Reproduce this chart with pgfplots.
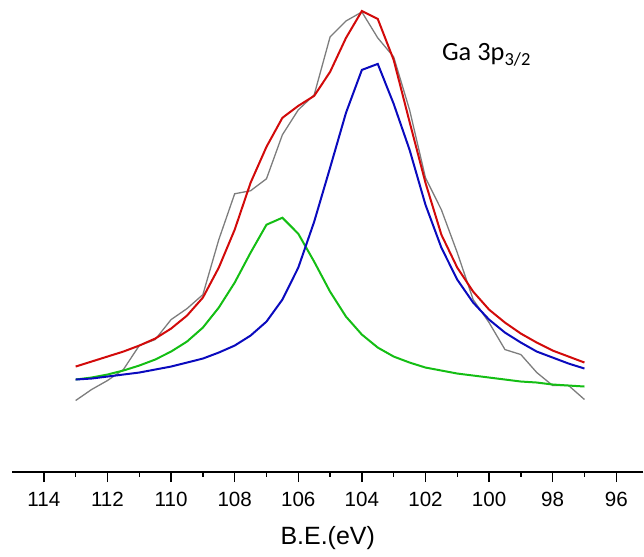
\documentclass[border=0pt]{standalone}
\usepackage{pgfplots}
\pgfplotsset{compat=1.18}
\usepackage{fontspec}
\setmainfont{Liberation Sans}
\newfontfamily\calibri{Carlito}
\definecolor{cred}{RGB}{210,10,10}
\definecolor{cblue}{RGB}{10,10,190}
\definecolor{cgreen}{RGB}{20,190,20}
\definecolor{cgray}{RGB}{125,125,125}
\begin{document}
\begin{tikzpicture}
\begin{axis}[
  scale only axis,
  width=316pt, height=236.35pt,
  x dir=reverse,
  xmin=95.15, xmax=115,
  ymin=0, ymax=472.7,
  axis x line=bottom,
  axis y line=none,
  axis line style={-, line width=0.7pt, black},
  xtick={96,98,...,114},
  minor x tick num=1,
  tick align=outside,
  major tick length=5pt,
  minor tick length=2.2pt,
  tick style={line width=0.7pt, black},
  /pgf/number format/assume math mode=true,
  xticklabel style={font=\fontsize{10.3}{12}\selectfont, anchor=base, yshift=-12pt},
  xlabel={B.E.(eV)},
  xlabel style={font=\fontsize{12.5}{14}\selectfont, at={(axis description cs:0.5,0)}, anchor=base, yshift=-36.15pt},
  clip=false,
]
\path (axis cs:115.38,-81.3) rectangle (axis cs:95.15,472.7);
\addplot[cgray, line width=0.65pt] coordinates {
(113,71.7)(112.5,82.7)(112,91.7)(111.5,102.7)(111,126.7)(110.5,132.7)(110,152.7)(109.5,163.7)(109,177.7)(108.5,232.7)(108,278.7)(107.5,281.7)(107,293.7)(106.5,337.7)(106,362.7)(105.5,377.7)(105,435.7)(104.5,451.7)(104,460.7)(103.5,434.7)(103,415.7)(102.5,362.7)(102,294.7)(101.5,262.7)(101,219.7)(100.5,172.7)(100,149.7)(99.5,122.7)(99,117.7)(98.5,99.7)(98,86.7)(97.5,86.7)(97,72.7)};
\addplot[cgreen, line width=1pt] coordinates {
(113,92.7)(112.5,94.7)(112,97.7)(111.5,101.7)(111,106.7)(110.5,112.7)(110,120.7)(109.5,130.7)(109,144.7)(108.5,164.7)(108,189.7)(107.5,219.7)(107,247.7)(106.5,254.7)(106,238.7)(105.5,210.7)(105,180.7)(104.5,155.7)(104,137.7)(103.5,124.7)(103,115.7)(102.5,109.7)(102,104.7)(101.5,101.7)(101,98.7)(100.5,96.7)(100,94.7)(99.5,92.7)(99,90.7)(98.5,89.7)(98,87.7)(97.5,86.7)(97,85.7)};
\addplot[cblue, line width=1pt] coordinates {
(113,92.7)(112.5,93.7)(112,95.7)(111.5,97.7)(111,99.7)(110.5,102.7)(110,105.7)(109.5,109.7)(109,113.7)(108.5,119.7)(108,126.7)(107.5,136.7)(107,150.7)(106.5,172.7)(106,204.7)(105.5,250.7)(105,304.7)(104.5,359.7)(104,402.7)(103.5,408.7)(103,368.7)(102.5,322.7)(102,267.7)(101.5,224.7)(101,192.7)(100.5,169.7)(100,152.7)(99.5,139.7)(99,129.7)(98.5,120.7)(98,114.7)(97.5,108.7)(97,103.7)};
\addplot[cred, line width=1pt] coordinates {
(113,105.7)(112.5,110.7)(112,115.7)(111.5,120.7)(111,126.7)(110.5,133.7)(110,143.7)(109.5,156.7)(109,174.7)(108.5,204.7)(108,242.7)(107.5,289.7)(107,325.7)(106.5,354.7)(106,366.7)(105.5,376.7)(105,400.7)(104.5,434.7)(104,461.7)(103.5,453.7)(103,412.7)(102.5,350.7)(102,289.7)(101.5,237.7)(101,204.7)(100.5,180.7)(100,162.7)(99.5,149.7)(99,138.7)(98.5,129.7)(98,121.7)(97.5,115.7)(97,109.7)};
\node[anchor=base west, inner sep=0pt, font=\calibri\fontsize{13.2}{15}\selectfont] at (axis cs:101.49,412) {Ga 3p\textsubscript{3/2}};
\end{axis}
\end{tikzpicture}
\end{document}
